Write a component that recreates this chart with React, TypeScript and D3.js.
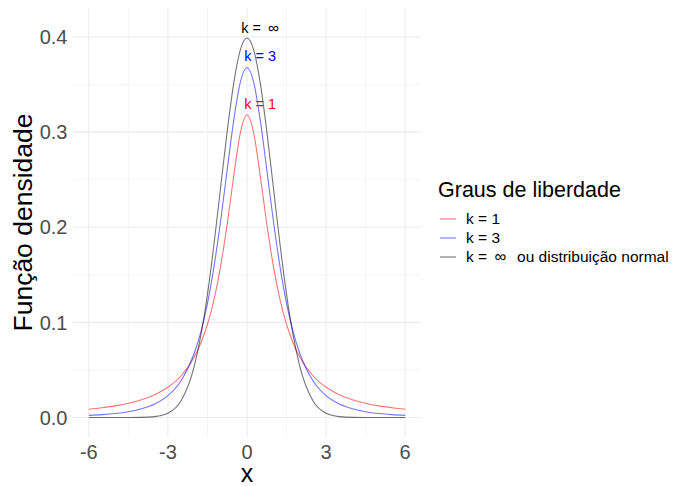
import React from 'react';
import * as d3 from 'd3';

const xValues = [-6, -5.5, -5, -4.5, -4, -3.5, -3, -2.5, -2, -1.75, -1.5, -1.25, -1, -0.75, -0.5, -0.25, 0,
  0.25, 0.5, 0.75, 1, 1.25, 1.5, 1.75, 2, 2.5, 3, 3.5, 4, 4.5, 5, 5.5, 6];

const densK1 = [0.0086, 0.0102, 0.0122, 0.015, 0.0187, 0.024, 0.0318, 0.0439, 0.0637, 0.0784, 0.0979, 0.1242, 0.1592, 0.2037, 0.2546, 0.2996, 0.318,
  0.2996, 0.2546, 0.2037, 0.1592, 0.1242, 0.0979, 0.0784, 0.0637, 0.0439, 0.0318, 0.024, 0.0187, 0.015, 0.0122, 0.0102, 0.0086];

const densK3 = [0.0022, 0.003, 0.0042, 0.0061, 0.0092, 0.0142, 0.023, 0.0387, 0.0675, 0.09, 0.12, 0.1589, 0.2068, 0.2607, 0.3132, 0.3528, 0.368,
  0.3528, 0.3132, 0.2607, 0.2068, 0.1589, 0.12, 0.09, 0.0675, 0.0387, 0.023, 0.0142, 0.0092, 0.0061, 0.0042, 0.003, 0.0022];

const densNormal = [0, 0, 0, 0, 0.0001, 0.0009, 0.0044, 0.0175, 0.054, 0.0863, 0.1295, 0.1826, 0.242, 0.3011, 0.3521, 0.3867, 0.399,
  0.3867, 0.3521, 0.3011, 0.242, 0.1826, 0.1295, 0.0863, 0.054, 0.0175, 0.0044, 0.0009, 0.0001, 0, 0, 0, 0];

const seriesColors = ['#ff0000', '#0000ff', '#000000'];
const legendLabels = ['k = 1', 'k = 3', 'k = \u221E ou distribuição normal'];
const peakLabels = ['k = 1', 'k = 3', 'k = \u221E'];
const peakLabelX = [0.5, 0.5, 0.5];
const peakLabelY = [0.33, 0.38, 0.41];

const xTicks = [-6, -3, 0, 3, 6];
const xMinor = [-4.5, -1.5, 1.5, 4.5];
const yTicks = [0, 0.1, 0.2, 0.3, 0.4];
const yMinor = [0.05, 0.15, 0.25, 0.35];

const W = 676;
const H = 486;
const panel = { left: 73, right: 421, top: 8, bottom: 437 };
const font = "'Liberation Sans', Arial, sans-serif";

// plotmath-like label: the infinity sign gets extra room around it
function renderLabel(lab: string, infSize: number) {
  const parts = lab.split('\u221E');
  if (parts.length === 1) return lab;
  return (
    <>
      {parts[0].trimEnd()}
      <tspan dx={infSize * 0.45} fontSize={infSize}>{'\u221E'}</tspan>
      {parts[1].trim() && <tspan dx={infSize * 0.65}>{parts[1].trim()}</tspan>}
    </>
  );
}

export default function App() {
  const x = d3.scaleLinear().domain([-6.6, 6.6]).range([panel.left, panel.right]);
  const y = d3.scaleLinear().domain([-0.0205, 0.4305]).range([panel.bottom, panel.top]);

  const line = d3.line<number>()
    .x((_, i) => x(xValues[i]))
    .y(d => y(d))
    .curve(d3.curveMonotoneX);

  const series = [densK1, densK3, densNormal];

  return (
    <svg width={W} height={H} style={{ position: 'absolute', left: 0, top: 0, background: '#fff' }} fontFamily={font}>
      {/* grid */}
      {xMinor.map(t => (
        <line key={'xm' + t} x1={x(t)} x2={x(t)} y1={panel.top} y2={panel.bottom} stroke="#ebebeb" strokeWidth={0.55} />
      ))}
      {yMinor.map(t => (
        <line key={'ym' + t} x1={panel.left} x2={panel.right} y1={y(t)} y2={y(t)} stroke="#ebebeb" strokeWidth={0.55} />
      ))}
      {xTicks.map(t => (
        <line key={'xg' + t} x1={x(t)} x2={x(t)} y1={panel.top} y2={panel.bottom} stroke="#ebebeb" strokeWidth={1.1} />
      ))}
      {yTicks.map(t => (
        <line key={'yg' + t} x1={panel.left} x2={panel.right} y1={y(t)} y2={y(t)} stroke="#ebebeb" strokeWidth={1.1} />
      ))}

      {/* curves */}
      {series.map((s, i) => (
        <path key={'s' + i} d={line(s) || ''} fill="none" stroke={seriesColors[i]} strokeOpacity={0.55} strokeWidth={1.1} />
      ))}

      {/* peak labels */}
      {peakLabels.map((lab, i) => (
        <text key={'pl' + i} x={x(peakLabelX[i])} y={y(peakLabelY[i])} dy="0.35em" textAnchor="middle"
          fontSize={14.5} fill={seriesColors[i]}>{renderLabel(lab, 15.5)}</text>
      ))}

      {/* axes text */}
      {xTicks.map(t => (
        <text key={'xt' + t} x={x(t)} y={459} textAnchor="middle" fontSize={20} fill="#4d4d4d">{t}</text>
      ))}
      {yTicks.map(t => (
        <text key={'yt' + t} x={67.5} y={y(t)} dy="0.36em" textAnchor="end" fontSize={20} fill="#4d4d4d">{d3.format('.1f')(t)}</text>
      ))}
      <text x={x(0)} y={482} textAnchor="middle" fontSize={25} fill="#000">x</text>
      <text transform={`translate(32,${(panel.top + panel.bottom) / 2}) rotate(-90)`} textAnchor="middle" fontSize={26.5} fill="#000">
        Função densidade
      </text>

      {/* legend */}
      <text x={438} y={197} fontSize={21.5} fill="#000">Graus de liberdade</text>
      {legendLabels.map((lab, i) => {
        const cy = 219 + i * 19;
        return (
          <g key={'lg' + i}>
            <line x1={440} x2={456} y1={cy} y2={cy} stroke={seriesColors[i]} strokeOpacity={0.55} strokeWidth={1.1} />
            <text x={466} y={cy} dy="0.35em" fontSize={15.5} fill="#000">{renderLabel(lab, 16.5)}</text>
          </g>
        );
      })}
    </svg>
  );
}
